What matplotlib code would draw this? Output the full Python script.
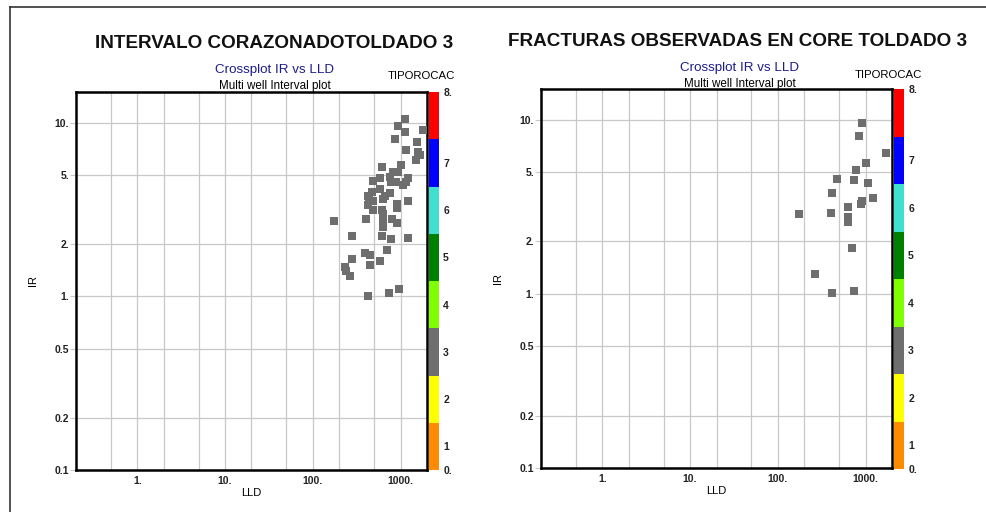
import numpy as np
import matplotlib
matplotlib.use("Agg")
from matplotlib import pyplot as plt
from matplotlib.ticker import FixedLocator, FixedFormatter, NullFormatter

plt.rcParams["font.family"] = ["Liberation Sans", "DejaVu Sans"]

# ---------------- data ----------------
titles = ["INTERVALO CORAZONADOTOLDADO 3", "FRACTURAS OBSERVADAS EN CORE TOLDADO 3"]

left_lld = [1132, 942, 1132, 864, 1816, 1540, 1154, 1570, 1667, 1499,
            609, 1011, 942, 813, 757, 583, 489, 1224, 1154, 1074,
            776, 885, 583, 468, 757, 665, 635, 421, 437, 489,
            1224, 903, 903, 421, 489, 614, 632, 632, 632, 632,
            174, 403, 790, 917, 282, 609, 771, 1224, 392, 447,
            693, 282, 583, 447, 233, 239, 265, 421, 742, 952]
left_ir = [10.45, 9.56, 8.83, 8.08, 9.07, 7.70, 6.96, 6.80, 6.51, 6.09,
           5.53, 5.68, 5.22, 5.17, 4.88, 4.80, 4.59, 4.78, 4.57, 4.37,
           4.52, 4.57, 4.13, 4.00, 3.92, 3.78, 3.62, 3.78, 3.58, 3.55,
           3.55, 3.40, 3.21, 3.35, 3.14, 3.14, 2.98, 2.82, 2.64, 2.52,
           2.72, 2.78, 2.78, 2.65, 2.23, 2.23, 2.13, 2.16, 1.78, 1.73,
           1.85, 1.63, 1.60, 1.51, 1.47, 1.39, 1.31, 1.01, 1.04, 1.10]

right_lld = [910, 848, 1690, 1008, 776, 476, 742, 1074, 410, 1215,
             903, 880, 632, 172, 403, 632, 632, 693, 263, 418, 742]
right_ir = [9.52, 8.05, 6.46, 5.61, 5.14, 4.56, 4.48, 4.34, 3.79, 3.53,
            3.42, 3.28, 3.14, 2.87, 2.92, 2.77, 2.59, 1.84, 1.30, 1.01, 1.04]

# TIPOROCAC classes (colour bar)
class_bounds = [0, 1, 2, 3, 4, 5, 6, 7, 8]
class_colors = ["#ff8c00", "#ffff00", "#6e6e6e", "#80ff00",
                "#008000", "#40e0d0", "#0000ff", "#ff0000"]
cbar_ticks = [0, 0.5, 1.5, 2.5, 3.5, 4.5, 5.5, 6.5, 8]
cbar_labels = ["0.", "1", "2", "3", "4", "5", "6", "7", "8."]

y_ticks = [0.1, 0.2, 0.5, 1, 2, 5, 10]
y_labels = ["0.1", "0.2", "0.5", "1.", "2.", "5.", "10."]
x_ticks = [1, 10, 100, 1000]
x_labels = ["1.", "10.", "100.", "1000."]
x_minor = [0.5, 2, 5, 20, 50, 200, 500]

point_color = "#6e6e6e"
grid_color = "#c8c8c8"

W, H = 987, 512
fig = plt.figure(figsize=(W / 100, H / 100), dpi=100)


def frac(x0, y0, x1, y1):
    # pixel box (top-left origin) -> figure fraction rect
    return [x0 / W, 1 - y1 / H, (x1 - x0) / W, (y1 - y0) / H]


panels = [
    dict(ax=(76, 92, 427, 470), cb=(429, 92, 439, 470), lld=left_lld, ir=left_ir,
         tx=274, ty=43, sx=275, sy=70, my=86, tpx=421, tpy=76),
    dict(ax=(541, 89, 892, 468), cb=(894, 89, 904, 469), lld=right_lld, ir=right_ir,
         tx=738, ty=41, sx=740, sy=68, my=84, tpx=888, tpy=75),
]

for title, p in zip(titles, panels):
    ax = fig.add_axes(frac(*p["ax"]))
    ax.set_xscale("log")
    ax.set_yscale("log")
    ax.set_xlim(0.2, 2000)
    ax.set_ylim(0.1, 15)

    ax.yaxis.set_major_locator(FixedLocator(y_ticks))
    ax.yaxis.set_major_formatter(FixedFormatter(y_labels))
    ax.yaxis.set_minor_formatter(NullFormatter())
    ax.yaxis.set_minor_locator(FixedLocator([]))
    ax.xaxis.set_major_locator(FixedLocator(x_ticks))
    ax.xaxis.set_major_formatter(FixedFormatter(x_labels))
    ax.xaxis.set_minor_locator(FixedLocator(x_minor))
    ax.xaxis.set_minor_formatter(NullFormatter())

    ax.grid(True, which="both", color=grid_color, linewidth=0.9)
    ax.set_axisbelow(True)
    ax.tick_params(axis="y", which="major", length=4, color=grid_color,
                   labelsize=7.5, pad=1)
    ax.tick_params(axis="x", which="both", length=0, labelsize=7.5, pad=4)
    for lab in ax.get_xticklabels() + ax.get_yticklabels():
        lab.set_fontweight("bold")
        lab.set_color("#222222")
    for s in ax.spines.values():
        s.set_linewidth(1.8)
        s.set_color("black")

    ax.scatter(p["lld"], p["ir"], marker="s", s=26, color=point_color,
               linewidths=0, zorder=3)

    ax.set_xlabel("LLD", fontsize=8, labelpad=2)
    ax.set_ylabel("IR", fontsize=8, labelpad=12)

    # colour bar drawn as stacked bars
    cax = fig.add_axes(frac(*p["cb"]))
    cax.bar(np.zeros(len(class_colors)), np.diff(class_bounds), width=1,
            bottom=class_bounds[:-1], color=class_colors, linewidth=0, align="edge")
    cax.set_xlim(0, 1)
    cax.set_ylim(class_bounds[0], class_bounds[-1])
    cax.set_xticks([])
    cax.yaxis.tick_right()
    cax.set_yticks(cbar_ticks)
    cax.set_yticklabels(cbar_labels, fontweight="bold", color="#222222")
    cax.tick_params(length=0, labelsize=7.5, pad=3)
    for s in cax.spines.values():
        s.set_visible(False)

    fig.text(p["tx"] / W, 1 - p["ty"] / H, title, ha="center", va="center",
             fontsize=13.6, fontweight="bold", color="#111111")
    fig.text(p["sx"] / W, 1 - p["sy"] / H, "Crossplot IR vs LLD", ha="center",
             va="center", fontsize=9.6, color="#1c1c8c")
    fig.text(p["sx"] / W, 1 - p["my"] / H, "Multi well Interval plot", ha="center",
             va="center", fontsize=8.4, color="black")
    fig.text(p["tpx"] / W, 1 - p["tpy"] / H, "TIPOROCAC", ha="center",
             va="center", fontsize=8.2, color="black")

# page frame (top and left edge)
fig.add_artist(plt.Line2D([10 / W, 1], [1 - 7 / H, 1 - 7 / H],
                          transform=fig.transFigure, color="#333333", linewidth=1.2))
fig.add_artist(plt.Line2D([10 / W, 10 / W], [0, 1 - 7 / H],
                          transform=fig.transFigure, color="#333333", linewidth=1.2))

fig.savefig("out.png", dpi=100)
plt.close(fig)
